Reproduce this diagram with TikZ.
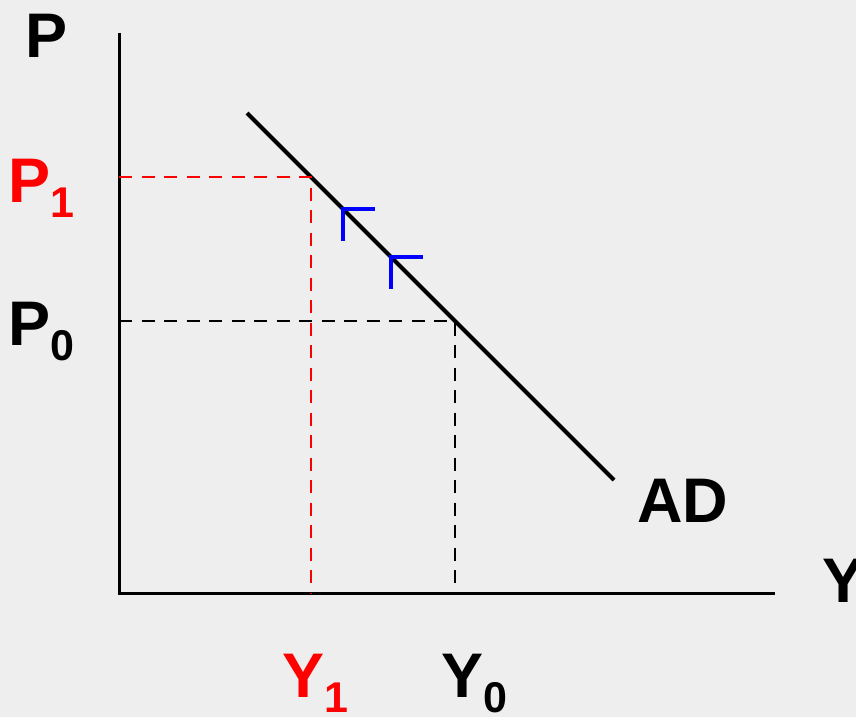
\documentclass[tikz,border=0pt]{standalone}
\usepackage{fontspec}
\setmainfont{Liberation Sans}
\definecolor{bg}{RGB}{238,238,238}
\definecolor{pred}{RGB}{255,0,0}
\definecolor{pblue}{RGB}{0,0,255}
\begin{document}
\begin{tikzpicture}[x=1pt,y=-1pt,
  axis/.style={line width=3pt,black},
  curve/.style={line width=4pt,black},
  guide/.style={line width=2.5pt,dash pattern=on 13pt off 9.5pt},
  shiftmark/.style={line width=4pt,pblue},
  lbl/.style={inner sep=0pt,anchor=base west,font=\fontsize{63}{63}\selectfont\bfseries}]
\fill[bg] (0,0) rectangle (856,717);
\useasboundingbox (0,0) rectangle (856,717);
% axes
\coordinate (O) at (119,593);
\coordinate (Ytop) at (119,33);
\coordinate (Xend) at (775,593);
\draw[axis] (Ytop) -- (O) -- (Xend);
% AD curve
\coordinate (ADa) at (247,113);
\coordinate (ADb) at (614,480);
\draw[curve] (ADa) -- (ADb);
% guides
\coordinate (E1) at (311,177);
\coordinate (E0) at (455,321);
\coordinate (P1ax) at (119,177);
\coordinate (P0ax) at (119,321);
\coordinate (Y1ax) at (311,593);
\coordinate (Y0ax) at (455,593);
\draw[guide,pred] (P1ax) -- (E1) -- (Y1ax);
\draw[guide,black] (P0ax) -- (E0) -- (Y0ax);
% blue arrow marks
\coordinate (A1) at (343,209);
\coordinate (A1h) at (375,209);
\coordinate (A1v) at (343,241);
\coordinate (A2) at (391,257);
\coordinate (A2h) at (423,257);
\coordinate (A2v) at (391,289);
\draw[shiftmark] (A1h) -- (A1) -- (A1v);
\draw[shiftmark] (A2h) -- (A2) -- (A2v);
% labels
\newcommand{\subdig}[1]{\raisebox{-15pt}{\fontsize{43}{43}\selectfont\bfseries #1}}
\node[lbl] (Plbl) at (25,57) {P};
\node[lbl,pred] (P1lbl) at (8,202) {P\subdig{1}};
\node[lbl] (P0lbl) at (8,345) {P\subdig{0}};
\node[lbl,pred] (Y1lbl) at (282,697) {Y\subdig{1}};
\node[lbl] (Y0lbl) at (441,697) {Y\subdig{0}};
\node[lbl] (ADlbl) at (637,522) {AD};
\node[lbl] (Ylbl) at (822,602) {Y};
\end{tikzpicture}
\end{document}
